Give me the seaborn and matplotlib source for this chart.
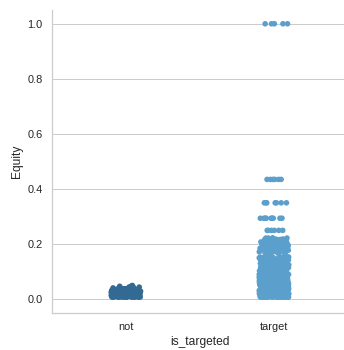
import numpy as np
import pandas as pd
import matplotlib
matplotlib.use("Agg")
import matplotlib.pyplot as plt
import seaborn as sns

# Category order on the x axis
categories = ["not", "target"]

# Equity values of non-targeted firms and how many firms share each value
not_equity = [0.008, 0.011, 0.014, 0.017, 0.020, 0.023, 0.026, 0.029,
              0.032, 0.035, 0.038, 0.041, 0.044, 0.047, 0.050]
not_counts = [20, 22, 22, 22, 22, 22, 20, 18, 14, 10, 6, 4, 3, 2, 1]

# Equity values of targeted firms and how many firms share each value
target_equity = [
    0.008, 0.012, 0.016, 0.020, 0.024, 0.028, 0.032, 0.036, 0.040, 0.044,
    0.048, 0.052, 0.056, 0.060, 0.064, 0.068, 0.072, 0.076, 0.080, 0.085,
    0.090, 0.095, 0.100, 0.103, 0.110, 0.115, 0.120, 0.125, 0.130, 0.135,
    0.140, 0.143, 0.150, 0.153,
    0.167, 0.172, 0.178, 0.185, 0.190, 0.195, 0.200, 0.208, 0.217, 0.222,
    0.250, 0.294, 0.350, 0.435, 1.000,
]
target_counts = [
    24, 24, 24, 24, 24, 24, 24, 24, 24, 24,
    22, 22, 22, 22, 20, 20, 20, 18, 18, 16,
    12, 12, 14, 10, 8, 12, 14, 16, 12, 12,
    14, 16, 14, 8,
    5, 8, 10, 10, 12, 14, 14, 8, 14, 5,
    6, 9, 7, 6, 5,
]

palette = ["#336a93", "#5b9fcc"]

sns.set_theme(style="whitegrid", context="notebook")
plt.rcParams["font.family"] = ["Liberation Sans", "DejaVu Sans"]

# Long-form table: one row per firm
equity = np.concatenate([np.repeat(not_equity, not_counts),
                         np.repeat(target_equity, target_counts)])
group = [categories[0]] * sum(not_counts) + [categories[1]] * sum(target_counts)
df = pd.DataFrame({"is_targeted": group, "Equity": equity})

np.random.seed(7)
fig = plt.figure(figsize=(344 / 72, 350 / 72), dpi=72)
ax = fig.add_axes([52 / 344, 37 / 350, 296 / 344, 303 / 350])
sns.stripplot(
    data=df, x="is_targeted", y="Equity", hue="is_targeted",
    order=categories, hue_order=categories, palette=palette,
    size=5.6, legend=False, ax=ax,
)
ax.set_ylim(-0.05, 1.05)
sns.despine(ax=ax)
fig.savefig("out.png", dpi=72)
